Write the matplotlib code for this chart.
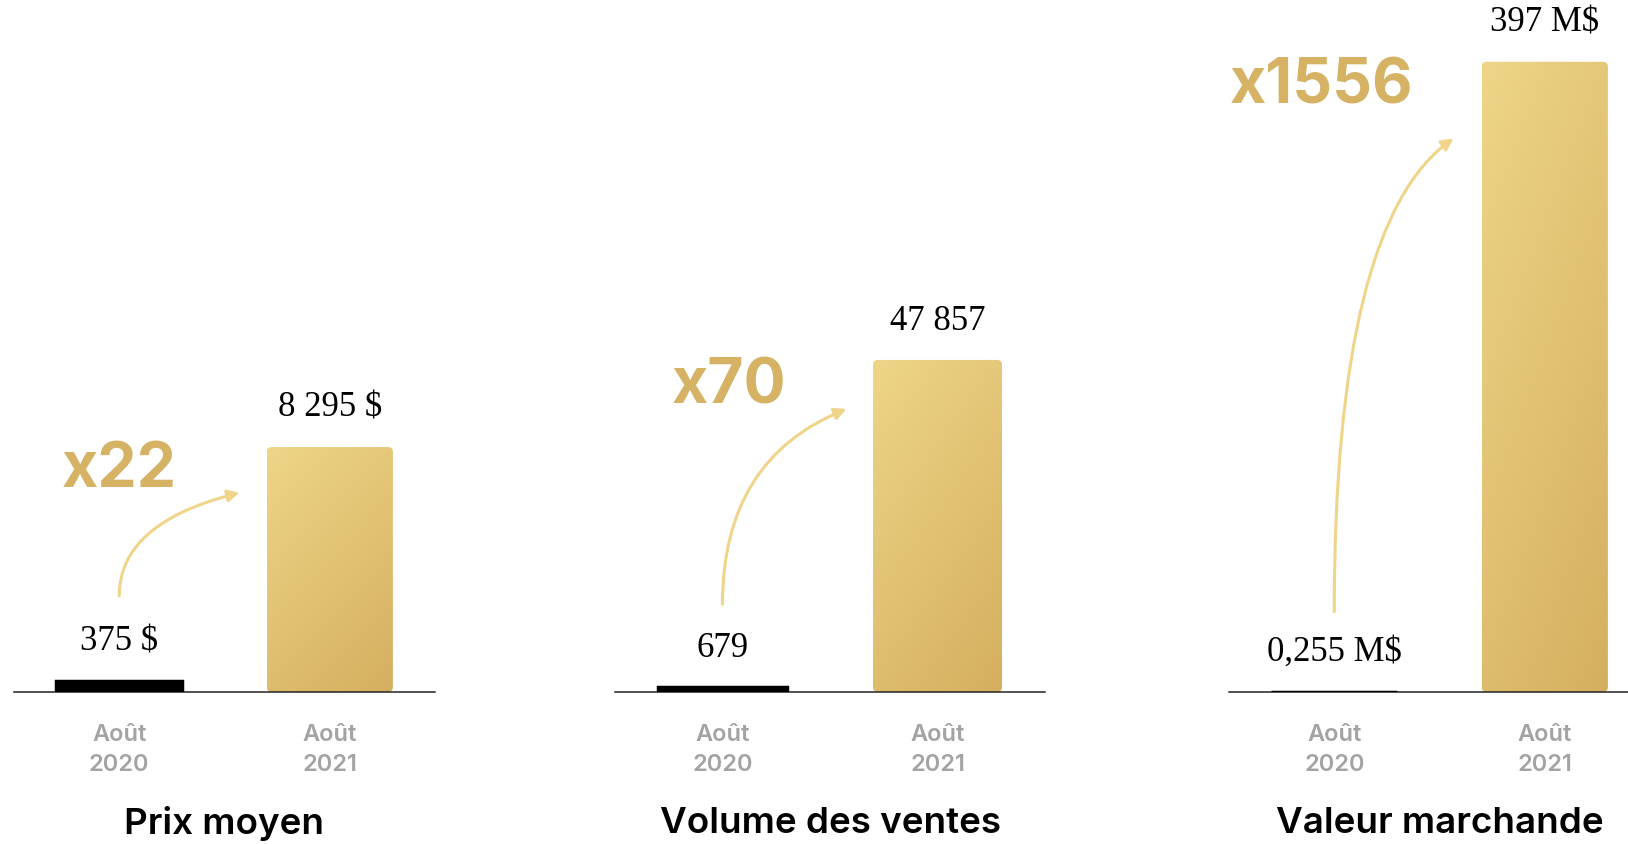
"""Gold-bar comparison of August 2020 vs August 2021."""

import matplotlib.pyplot as plt
import numpy as np
from matplotlib.colors import LinearSegmentedColormap
from matplotlib.patches import FancyBboxPatch

titles = ["Prix moyen", "Volume des ventes", "Valeur marchande"]
periods = ["Août\n2020", "Août\n2021"]
values_2020 = [375, 679, 0.255]
values_2021 = [8295, 47857, 397]
labels_2020 = ["375 $", "679", "0,255 M$"]
labels_2021 = ["8 295 $", "47 857", "397 M$"]
multipliers = ["x22", "x70", "x1556"]

# layout, in pixels of the 1628x844 canvas
FIG_W, FIG_H = 1628, 844
PANEL_LEFT = [14, 615, 1229]
PANEL_WIDTH = [421, 430, 421]
BASELINE = 692
HEADROOM = [2.825, 2.084, 1.098]
ARROW_START = [0.139, 0.127, 0.116]
ARROW_END = [(0.572, 0.288), (0.577, 0.409), (0.567, 0.80)]
ARROW_ANGLE = [14, 22, 35]
MULT_POS = [(0.0, 0.320), (0.03, 0.441), (-0.06, 0.874)]

GOLD_LIGHT = "#eed587"
GOLD_DARK = "#d5af60"
ARROW_COLOR = "#efd489"
MULT_COLOR = "#d5b264"
TICK_GREY = "#a3a3a3"
SANS = ["Inter", "DejaVu Sans"]
SERIF = ["Liberation Serif", "DejaVu Serif"]

gold = LinearSegmentedColormap.from_list("gold", [GOLD_LIGHT, GOLD_DARK])


def draw_panel(axis, i):
    ymax = values_2021[i] * HEADROOM[i]
    bars = axis.bar(
        [0, 1],
        [values_2020[i], values_2021[i]],
        width=0.6,
        color=["black", "none"],
        edgecolor=["black", "none"],
        linewidth=[2.5, 0],
        zorder=3,
    )

    # gold gradient clipped to a softly rounded copy of the 2021 bar
    rect = bars[1]
    x0, w, h = rect.get_x(), rect.get_width(), rect.get_height()
    px_per_x = PANEL_WIDTH[i] / 2
    clip = FancyBboxPatch(
        (x0, 0),
        w,
        h,
        boxstyle=f"round,pad=0,rounding_size={5 / px_per_x}",
        mutation_aspect=ymax * px_per_x / BASELINE,
        transform=axis.transData,
        facecolor="none",
        edgecolor="none",
    )
    axis.add_patch(clip)
    yy, xx = np.mgrid[0:1:256j, 0:1:256j]
    image = axis.imshow(
        0.35 * xx + 0.65 * yy,
        cmap=gold,
        extent=[x0, x0 + w, 0, h],
        origin="upper",
        aspect="auto",
        interpolation="bilinear",
        zorder=2,
    )
    image.set_clip_path(clip)

    for x, value, text in [(0, values_2020[i], labels_2020[i]), (1, values_2021[i], labels_2021[i])]:
        axis.annotate(
            text,
            xy=(x, value),
            xytext=(0, 28),
            textcoords="offset points",
            ha="center",
            va="center",
            fontsize=25,
            family=SERIF,
            annotation_clip=False,
        )

    blend = axis.get_xaxis_transform()
    axis.text(
        *MULT_POS[i],
        multipliers[i],
        transform=blend,
        ha="center",
        va="center",
        fontsize=45,
        fontweight="bold",
        color=MULT_COLOR,
        family=SANS,
    )
    axis.annotate(
        "",
        xy=ARROW_END[i],
        xycoords=blend,
        xytext=(0, ARROW_START[i]),
        textcoords=blend,
        arrowprops=dict(
            arrowstyle="-|>,head_length=0.7,head_width=0.35",
            color=ARROW_COLOR,
            lw=2.2,
            shrinkA=0,
            shrinkB=0,
            connectionstyle=f"angle3,angleA=90,angleB={ARROW_ANGLE[i]}",
        ),
        annotation_clip=False,
    )

    axis.annotate(
        titles[i],
        xy=(0.5, 0),
        xycoords="axes fraction",
        xytext=(0, -95),
        textcoords="offset points",
        ha="center",
        va="center",
        fontsize=26.5,
        fontweight="semibold",
        family=SANS,
    )

    axis.set_xlim(-0.5, 1.5)
    axis.set_ylim(0, ymax)
    axis.set_yticks([])
    axis.set_xticks([0, 1], periods)
    axis.tick_params(axis="x", length=0, pad=23, colors=TICK_GREY, labelsize=17)
    for label in axis.get_xticklabels():
        label.set_fontweight("semibold")
        label.set_family(SANS)
        label.set_linespacing(1.45)
    for side in ["top", "left", "right"]:
        axis.spines[side].set_visible(False)
    axis.spines["bottom"].set_linewidth(1.1)
    axis.spines["bottom"].set_color("#222222")
    axis.patch.set_visible(False)


figure = plt.figure(figsize=(FIG_W / 100, FIG_H / 100), dpi=100)
for i, left in enumerate(PANEL_LEFT):
    axis = figure.add_axes(
        [left / FIG_W, (FIG_H - BASELINE) / FIG_H, PANEL_WIDTH[i] / FIG_W, BASELINE / FIG_H]
    )
    draw_panel(axis, i)

figure.savefig("out.png", dpi=100)
plt.close(figure)
